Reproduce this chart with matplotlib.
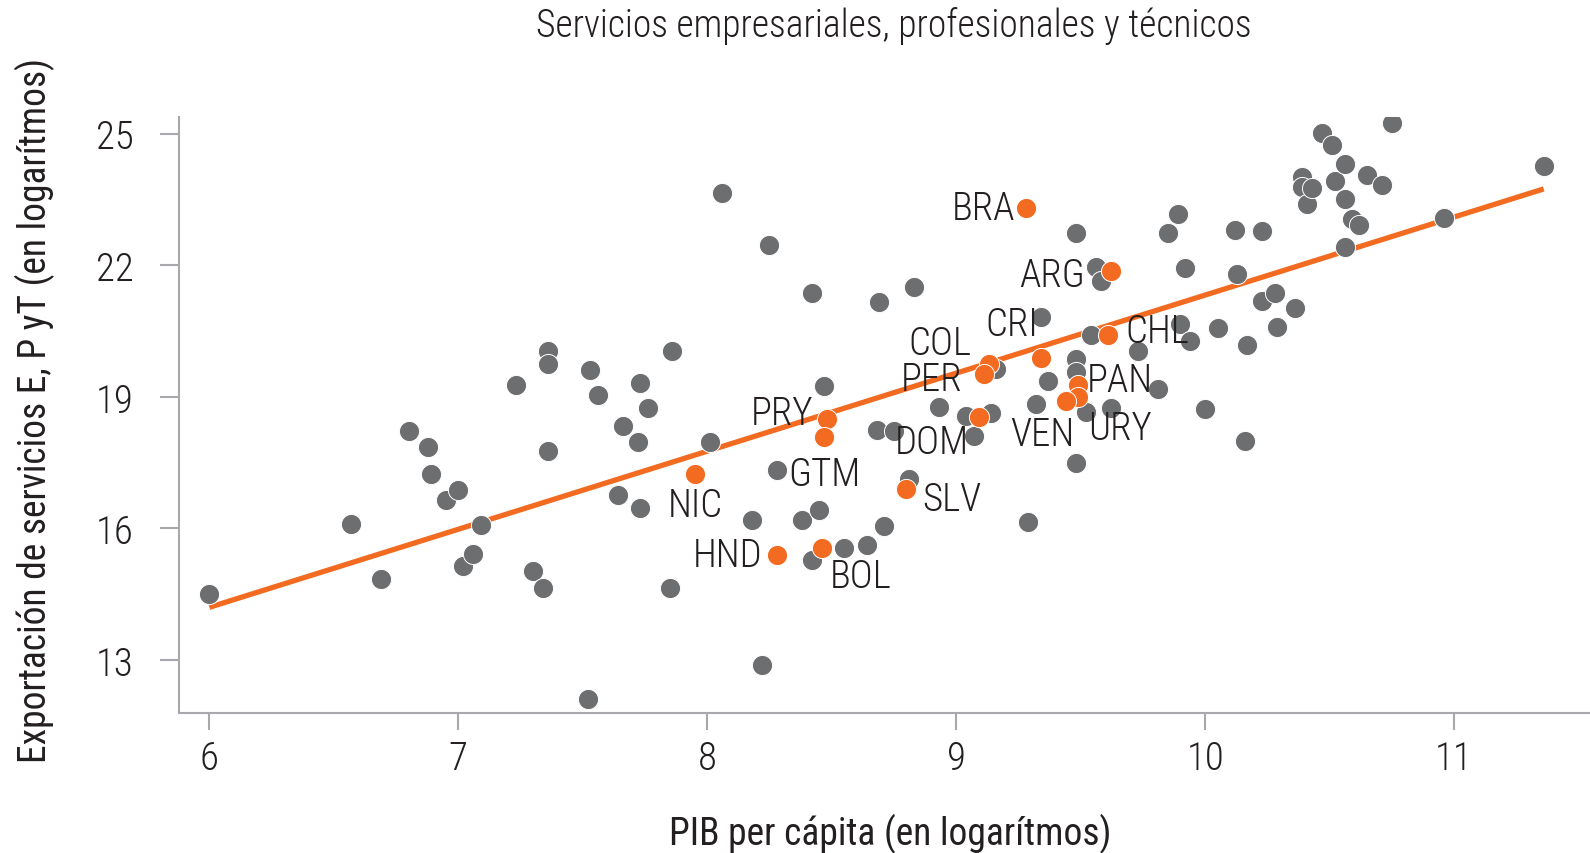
import matplotlib
matplotlib.use("Agg")
import matplotlib.pyplot as plt
from matplotlib import font_manager

disponibles = set(f.name for f in font_manager.fontManager.ttflist)
fuente = 'Liberation Sans'
for c in ['Roboto Condensed', 'Archivo Narrow', 'PT Sans Narrow', 'Liberation Sans Narrow']:
    if c in disponibles:
        fuente = c
        break
plt.rcParams['font.family'] = [fuente, 'DejaVu Sans']
plt.rcParams['font.weight'] = 'light'

# paises (gris)
gris_x = [6.00, 6.57, 6.69, 6.80, 6.88, 6.89, 6.95, 7.00, 7.02, 7.06, 7.09, 7.23,
          7.30, 7.34, 7.36, 7.36, 7.36, 7.52, 7.53, 7.56, 7.64, 7.66, 7.72, 7.73,
          7.73, 7.76, 7.85, 7.86, 8.01, 8.06, 8.18, 8.22, 8.25, 8.28, 8.38, 8.42,
          8.42, 8.45, 8.47, 8.55, 8.64, 8.68, 8.69, 8.71, 8.75, 8.81, 8.83, 8.93,
          9.04, 9.07, 9.14, 9.16, 9.29, 9.32, 9.34, 9.37, 9.48, 9.48, 9.48, 9.48,
          9.52, 9.54, 9.56, 9.58, 9.62, 9.73, 9.81, 9.85, 9.89, 9.90, 9.92, 9.94,
          10.00, 10.05, 10.12, 10.13, 10.16, 10.17, 10.23, 10.23, 10.28, 10.29, 10.36, 10.39,
          10.39, 10.41, 10.43, 10.47, 10.51, 10.52, 10.56, 10.56, 10.56, 10.59, 10.62, 10.65,
          10.71, 10.75, 10.96, 11.36]
gris_y = [14.50, 16.11, 14.84, 18.21, 17.85, 17.24, 16.65, 16.88, 15.15, 15.42, 16.08, 19.28,
          15.03, 14.63, 20.04, 19.75, 17.77, 12.11, 19.60, 19.04, 16.75, 18.34, 17.98, 19.32,
          16.46, 18.74, 14.64, 20.04, 17.96, 23.64, 16.20, 12.89, 22.45, 17.32, 16.20, 21.36,
          15.29, 16.42, 19.24, 15.55, 15.63, 18.25, 21.16, 16.06, 18.23, 17.13, 21.50, 18.76,
          18.57, 18.10, 18.63, 19.64, 16.15, 18.84, 20.82, 19.37, 22.74, 19.86, 19.56, 17.48,
          18.65, 20.40, 21.96, 21.65, 18.74, 20.04, 19.18, 22.74, 23.16, 20.66, 21.94, 20.28,
          18.72, 20.57, 22.81, 21.80, 18.00, 20.18, 22.79, 21.18, 21.36, 20.60, 21.02, 24.01,
          23.78, 23.40, 23.76, 25.01, 24.75, 23.93, 24.30, 23.52, 22.41, 23.06, 22.92, 24.05,
          23.82, 25.25, 23.07, 24.26]

# America Latina (naranja)
paises = ['BRA', 'ARG', 'CHL', 'CRI', 'COL', 'PER', 'PAN', 'URY',
          'VEN', 'DOM', 'PRY', 'GTM', 'NIC', 'SLV', 'HND', 'BOL']
al_x = [9.28, 9.62, 9.61, 9.34, 9.13, 9.11, 9.49, 9.49,
        9.44, 9.09, 8.48, 8.47, 7.95, 8.80, 8.28, 8.46]
al_y = [23.30, 21.87, 20.40, 19.88, 19.75, 19.52, 19.27, 18.99,
        18.91, 18.55, 18.50, 18.08, 17.24, 16.90, 15.39, 15.55]

# recta de ajuste
recta_x = [6.0, 11.36]
recta_y = [14.20, 23.74]

# desplazamiento de las etiquetas (pixeles, centro del texto)
desplaz = {
    'BRA': (-42, 3), 'ARG': (-59, -1), 'CHL': (49, 7), 'CRI': (-29, 37),
    'COL': (-49, 24), 'PER': (-52, -2), 'PAN': (42, 8), 'URY': (42, -28),
    'VEN': (-23, -30), 'DOM': (-47, -22), 'PRY': (-45, 9), 'GTM': (0, -34),
    'NIC': (1, -28), 'SLV': (45, -7), 'HND': (-49, 3), 'BOL': (39, -25),
}

gris = '#6d6e70'
naranja = '#f26b21'
texto = '#231f20'
eje = '#a7a9ac'
tam = 28
tam_tit = 27

fig = plt.figure(figsize=(15.9, 8.54), dpi=100)
ax = fig.add_axes([179 / 1590, 140 / 854, 1411 / 1590, 596 / 854])

ax.plot(recta_x, recta_y, color=naranja, lw=3.8, zorder=2, solid_capstyle='butt')
ax.scatter(gris_x, gris_y, s=210, color=gris, edgecolors='white', linewidths=0.7, zorder=3)
ax.scatter(al_x, al_y, s=210, color=naranja, edgecolors='white', linewidths=0.7, zorder=4)

for p, x, y in zip(paises, al_x, al_y):
    dx, dy = desplaz[p]
    ax.annotate(p, (x, y), xytext=(dx, dy - 14), textcoords='offset pixels',
                ha='center', va='baseline', fontsize=tam, color=texto, zorder=5)

ax.set_xlim(5.878, 11.546)
ax.set_ylim(11.79, 25.38)
ax.set_xticks([6, 7, 8, 9, 10, 11])
ax.set_yticks([13, 16, 19, 22, 25])

for s in ['top', 'right']:
    ax.spines[s].set_visible(False)
for s in ['left', 'bottom']:
    ax.spines[s].set_color(eje)
    ax.spines[s].set_linewidth(1.5)

ax.tick_params(axis='x', length=12, width=1.5, color=eje, pad=7,
               labelsize=tam, labelcolor=texto)
ax.tick_params(axis='y', length=13.5, width=1.5, color=eje, pad=19,
               labelsize=tam, labelcolor=texto)

ax.set_xlabel('PIB per cápita (en logarítmos)', fontsize=tam_tit, color=texto)
ax.xaxis.set_label_coords(0.504, -0.201)
ax.xaxis.label.set_va('center')
ax.set_ylabel('Exportación de servicios E, P yT (en logarítmos)', fontsize=tam_tit, color=texto)
ax.yaxis.set_label_coords(-0.102, 0.51)
ax.yaxis.label.set_va('center')

fig.text(894 / 1590, 1 - 26 / 854, 'Servicios empresariales, profesionales y técnicos',
         ha='center', va='center', fontsize=tam_tit, color=texto)

plt.savefig('out.png', dpi=100)
